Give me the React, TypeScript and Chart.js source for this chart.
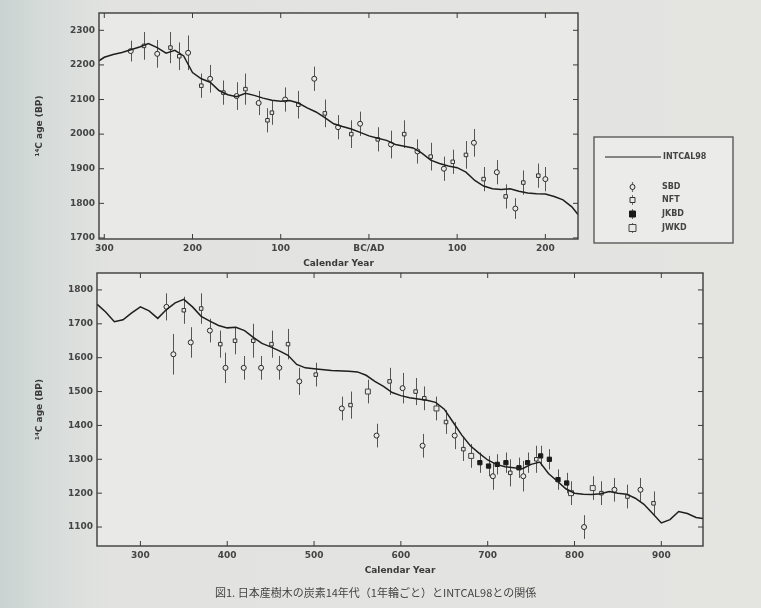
import React, { useEffect, useRef } from "react";
import { Chart, registerables } from "chart.js";
Chart.register(...registerables);

const seriesNames = ["INTCAL98", "SBD", "NFT", "JKBD", "JWKD"];

const topXTicks = [-300, -200, -100, 0, 100, 200];
const topXTickLabels = ["300", "200", "100", "BC/AD", "100", "200"];
const topYTicks = [1700, 1800, 1900, 2000, 2100, 2200, 2300];
const bottomXTicks = [300, 400, 500, 600, 700, 800, 900];
const bottomXTickLabels = ["300", "400", "500", "600", "700", "800", "900"];
const bottomYTicks = [1100, 1200, 1300, 1400, 1500, 1600, 1700, 1800];

const topCurveYears = [-306, -300, -290, -280, -270, -260, -250, -240, -230, -220, -210, -200, -190, -180, -170, -160, -150, -140, -130, -120, -110, -100, -90, -80, -70, -60, -50, -40, -30, -20, -10, 0, 10, 20, 30, 40, 50, 60, 70, 80, 90, 100, 110, 120, 130, 140, 150, 160, 170, 180, 190, 200, 210, 220, 230, 237];
const topCurveAges = [2212, 2222, 2230, 2236, 2244, 2252, 2262, 2250, 2234, 2242, 2226, 2178, 2160, 2150, 2126, 2114, 2108, 2118, 2112, 2104, 2098, 2095, 2097, 2090, 2076, 2064, 2048, 2030, 2022, 2015, 2005, 1995, 1988, 1982, 1970, 1965, 1960, 1945, 1925, 1915, 1908, 1903, 1890, 1866, 1850, 1842, 1840, 1842, 1835, 1830, 1828, 1827, 1820, 1810, 1790, 1768];

const bottomCurveYears = [250, 260, 270, 280, 290, 300, 310, 320, 330, 340, 350, 360, 370, 380, 390, 400, 410, 420, 430, 440, 450, 460, 470, 480, 490, 500, 520, 540, 550, 560, 570, 580, 590, 600, 610, 620, 630, 640, 650, 660, 670, 680, 690, 700, 710, 720, 730, 740, 750, 760, 770, 780, 790, 800, 810, 820, 830, 840, 850, 860, 870, 880, 890, 900, 910, 920, 930, 940, 948];
const bottomCurveAges = [1758, 1735, 1706, 1712, 1732, 1750, 1738, 1716, 1742, 1762, 1772, 1750, 1722, 1708, 1695, 1688, 1690, 1680, 1660, 1642, 1632, 1620, 1607, 1580, 1570, 1567, 1562, 1560, 1558, 1548, 1530, 1515, 1497, 1488, 1482, 1478, 1474, 1468, 1448, 1410, 1372, 1340, 1318, 1298, 1285, 1278, 1275, 1272, 1285, 1292, 1258, 1236, 1213, 1200, 1197, 1196, 1198, 1205, 1200, 1197, 1185, 1167, 1140, 1112, 1122, 1146, 1140, 1128, 1125];

// [calendar year, 14C age, error]
const topSBD = [[-270, 2240, 30], [-240, 2232, 40], [-205, 2235, 50], [-180, 2160, 40], [-150, 2110, 40], [-125, 2090, 35], [-95, 2100, 35], [-62, 2160, 35], [-35, 2020, 35], [-10, 2030, 35], [25, 1970, 40], [55, 1950, 35], [85, 1900, 35], [119, 1975, 40], [145, 1890, 35], [166, 1785, 30], [200, 1870, 35]];
const topNFT = [[-255, 2255, 40], [-225, 2250, 45], [-215, 2225, 40], [-190, 2140, 35], [-165, 2120, 35], [-140, 2130, 45], [-115, 2040, 35], [-110, 2062, 35], [-80, 2085, 40], [-50, 2060, 40], [-20, 2000, 40], [10, 1985, 35], [40, 2000, 40], [70, 1935, 40], [95, 1920, 35], [110, 1940, 40], [130, 1870, 35], [155, 1820, 35], [175, 1860, 35], [192, 1880, 35]];
const bottomSBD = [[330, 1750, 40], [338, 1610, 60], [358, 1645, 45], [380, 1680, 35], [398, 1570, 45], [419, 1570, 35], [439, 1570, 35], [460, 1570, 35], [483, 1530, 40], [532, 1450, 35], [572, 1370, 35], [602, 1510, 45], [625, 1340, 35], [662, 1370, 40], [706, 1250, 40], [741, 1250, 45], [811, 1100, 35], [846, 1210, 35], [876, 1210, 35]];
const bottomNFT = [[350, 1740, 40], [370, 1745, 45], [392, 1640, 40], [409, 1650, 40], [430, 1650, 50], [451, 1640, 40], [470, 1640, 45], [502, 1550, 35], [542, 1460, 40], [587, 1530, 40], [617, 1500, 40], [627, 1480, 35], [652, 1410, 35], [672, 1330, 35], [726, 1260, 40], [756, 1300, 40], [831, 1200, 35], [861, 1190, 35], [891, 1170, 35]];
const bottomJKBD = [[691, 1290, 30], [701, 1280, 30], [711, 1285, 30], [721, 1290, 30], [736, 1275, 30], [746, 1290, 30], [761, 1310, 30], [771, 1300, 30], [781, 1240, 30], [791, 1230, 30]];
const bottomJWKD = [[562, 1500, 35], [641, 1450, 35], [681, 1310, 35], [796, 1200, 35], [821, 1215, 35]];

const TICK_FONT = { family: "DejaVu Sans", size: 9, weight: "bold" as const };
const TICK_COLOR = "#444";
const PLOT_BG = "#e9e9e7";

const styles = [
  { pointStyle: "circle", radius: 2.5, bg: PLOT_BG, border: "#2a2a2a" },
  { pointStyle: "rect", radius: 2.5, bg: PLOT_BG, border: "#333" },
  { pointStyle: "rect", radius: 3, bg: "#1a1a1a", border: "#1a1a1a" },
  { pointStyle: "rect", radius: 3.5, bg: PLOT_BG, border: "#444" },
];

function pointSet(label: string, arr: number[][], st: any) {
  return {
    label,
    data: arr.map((p) => ({ x: p[0], y: p[1] })),
    errors: arr.map((p) => p[2]),
    showLine: false,
    pointStyle: st.pointStyle,
    pointRadius: st.radius,
    pointBackgroundColor: st.bg,
    pointBorderColor: st.border,
    pointBorderWidth: 1,
  };
}

const panelPlugin = {
  id: "panel",
  beforeDraw(chart: any) {
    const { ctx, chartArea: a } = chart;
    ctx.save();
    ctx.fillStyle = PLOT_BG;
    ctx.fillRect(a.left, a.top, a.right - a.left, a.bottom - a.top);
    ctx.restore();
  },
  beforeDatasetsDraw(chart: any) {
    const { ctx, chartArea: a } = chart;
    const xs = chart.scales.x;
    const ys = chart.scales.y;
    ctx.save();
    ctx.beginPath();
    ctx.rect(a.left, a.top, a.right - a.left, a.bottom - a.top);
    ctx.clip();
    ctx.strokeStyle = "#555";
    ctx.lineWidth = 1;
    chart.data.datasets.forEach((ds: any) => {
      if (!ds.errors) return;
      ds.data.forEach((p: any, j: number) => {
        const e = ds.errors[j];
        const x = Math.round(xs.getPixelForValue(p.x)) + 0.5;
        ctx.beginPath();
        ctx.moveTo(x, ys.getPixelForValue(p.y - e));
        ctx.lineTo(x, ys.getPixelForValue(p.y + e));
        ctx.stroke();
      });
    });
    ctx.restore();
  },
  afterDraw(chart: any) {
    const { ctx, chartArea: a } = chart;
    const xs = chart.scales.x;
    const ys = chart.scales.y;
    ctx.save();
    ctx.strokeStyle = "#3c3c3c";
    ctx.lineWidth = 1.4;
    ctx.strokeRect(a.left, a.top, a.right - a.left, a.bottom - a.top);
    ctx.lineWidth = 1;
    ctx.beginPath();
    xs.ticks.forEach((t: any) => {
      const x = xs.getPixelForValue(t.value);
      ctx.moveTo(x, a.bottom);
      ctx.lineTo(x, a.bottom - 5);
      ctx.moveTo(x, a.top);
      ctx.lineTo(x, a.top + 5);
    });
    ys.ticks.forEach((t: any) => {
      const y = ys.getPixelForValue(t.value);
      ctx.moveTo(a.left, y);
      ctx.lineTo(a.left + 5, y);
      ctx.moveTo(a.right, y);
      ctx.lineTo(a.right - 5, y);
    });
    ctx.stroke();
    ctx.restore();
  },
};

function drawMarker(ctx: CanvasRenderingContext2D, ds: any, x: number, y: number) {
  const r = ds.pointRadius;
  ctx.fillStyle = ds.pointBackgroundColor;
  ctx.strokeStyle = ds.pointBorderColor;
  ctx.lineWidth = 1;
  ctx.beginPath();
  if (ds.pointStyle === "circle") ctx.arc(x, y, r, 0, Math.PI * 2);
  else ctx.rect(x - r, y - r, r * 2, r * 2);
  ctx.fill();
  ctx.stroke();
}

const legendBoxPlugin = {
  id: "legendBox",
  afterDraw(chart: any, _args: any, opts: any) {
    if (!opts || !opts.show) return;
    const ctx = chart.ctx;
    const a = chart.chartArea;
    const ds = chart.data.datasets;
    const bx = a.right + 16;
    const by = 137;
    const bw = 139;
    const bh = 106;
    ctx.save();
    ctx.fillStyle = "#ebebe9";
    ctx.fillRect(bx, by, bw, bh);
    ctx.strokeStyle = "#5a5a5a";
    ctx.lineWidth = 1.4;
    ctx.strokeRect(bx, by, bw, bh);
    ctx.font = "bold 8px 'DejaVu Sans'";
    ctx.textBaseline = "middle";
    ctx.fillStyle = "#444";
    ctx.strokeStyle = ds[0].borderColor;
    ctx.lineWidth = 1.2;
    ctx.beginPath();
    ctx.moveTo(bx + 11, by + 20);
    ctx.lineTo(bx + 67, by + 20);
    ctx.stroke();
    ctx.fillText(ds[0].label, bx + 69, by + 20);
    const rows = [50, 63, 77, 91];
    for (let i = 1; i < ds.length; i++) {
      const y = by + rows[i - 1];
      ctx.strokeStyle = "#6a6a6a";
      ctx.beginPath();
      ctx.moveTo(bx + 38.5, y - 5);
      ctx.lineTo(bx + 38.5, y + 5);
      ctx.stroke();
      drawMarker(ctx, ds[i], bx + 38.5, y);
      ctx.fillStyle = "#444";
      ctx.fillText(ds[i].label, bx + 68, y);
    }
    ctx.restore();
  },
};

function makeConfig(p: any) {
  const titleFont = { family: "DejaVu Sans", size: 9, weight: "bold" as const };
  return {
    type: "scatter" as const,
    data: {
      datasets: [
        {
          label: seriesNames[0],
          data: p.curveX.map((x: number, i: number) => ({ x, y: p.curveY[i] })),
          showLine: true,
          borderColor: "#1f1f1f",
          borderWidth: 1.5,
          pointRadius: 0,
          tension: 0,
        },
        ...p.points.map((arr: number[][], i: number) => pointSet(seriesNames[i + 1], arr, styles[i])),
      ],
    },
    options: {
      animation: false,
      responsive: false,
      devicePixelRatio: 1,
      layout: { padding: { top: p.padTop, right: p.padRight, left: 0, bottom: 0 } },
      plugins: {
        legend: { display: false },
        tooltip: { enabled: false },
        legendBox: { show: p.legend },
      },
      scales: {
        x: {
          type: "linear",
          min: p.xMin,
          max: p.xMax,
          afterBuildTicks: (s: any) => {
            s.ticks = p.xTicks.map((v: number) => ({ value: v }));
          },
          afterFit: (s: any) => {
            s.height = p.xHeight;
          },
          ticks: {
            autoSkip: false,
            maxRotation: 0,
            padding: 4,
            font: TICK_FONT,
            color: TICK_COLOR,
            callback: (v: number) => p.xLabels[p.xTicks.indexOf(v)],
          },
          grid: { display: false, drawTicks: false },
          border: { display: false },
          title: { display: true, text: "Calendar Year", font: titleFont, color: "#3a3a3a", padding: { top: 0, bottom: 6 } },
        },
        y: {
          type: "linear",
          min: p.yMin,
          max: p.yMax,
          afterBuildTicks: (s: any) => {
            s.ticks = p.yTicks.map((v: number) => ({ value: v }));
          },
          afterFit: (s: any) => {
            s.width = p.yWidth;
          },
          ticks: { padding: 4, font: TICK_FONT, color: TICK_COLOR, callback: (v: number) => String(v) },
          grid: { display: false, drawTicks: false },
          border: { display: false },
          title: { display: true, text: "¹⁴C age (BP)", font: titleFont, color: "#3a3a3a", padding: { top: 34, bottom: 0 } },
        },
      },
    },
    plugins: [panelPlugin, legendBoxPlugin],
  };
}

function ChartCanvas({ cfg, width, height, top }: any) {
  const ref = useRef<HTMLCanvasElement | null>(null);
  useEffect(() => {
    if (!ref.current) return;
    const chart = new Chart(ref.current, cfg as any);
    return () => chart.destroy();
  }, []);
  return (
    <canvas
      ref={ref}
      width={width}
      height={height}
      style={{ position: "absolute", left: 0, top, width, height, display: "block" }}
    />
  );
}

export default function App() {
  const topCfg = makeConfig({
    curveX: topCurveYears,
    curveY: topCurveAges,
    points: [topSBD, topNFT, [], []],
    xMin: -306,
    xMax: 237,
    yMin: 1697,
    yMax: 2350,
    xTicks: topXTicks,
    xLabels: topXTickLabels,
    yTicks: topYTicks,
    padTop: 13,
    padRight: 183,
    xHeight: 36,
    yWidth: 99,
    legend: true,
  });
  const bottomCfg = makeConfig({
    curveX: bottomCurveYears,
    curveY: bottomCurveAges,
    points: [bottomSBD, bottomNFT, bottomJKBD, bottomJWKD],
    xMin: 250,
    xMax: 948,
    yMin: 1044,
    yMax: 1850,
    xTicks: bottomXTicks,
    xLabels: bottomXTickLabels,
    yTicks: bottomYTicks,
    padTop: 11,
    padRight: 58,
    xHeight: 36,
    yWidth: 97,
    legend: false,
  });
  return (
    <div
      style={{
        position: "fixed",
        left: 0,
        top: 0,
        width: 761,
        height: 608,
        overflow: "hidden",
        background: "linear-gradient(to right, #c9d3d1 0px, #d6dcda 45px, #e2e3e0 110px, #e4e4e1 100%)",
      }}
    >
      <ChartCanvas cfg={topCfg} width={761} height={275} top={0} />
      <ChartCanvas cfg={bottomCfg} width={761} height={320} top={262} />
      <div
        style={{
          position: "absolute",
          left: 215,
          top: 584,
          fontFamily: "'Noto Sans CJK JP', sans-serif",
          fontSize: 11,
          color: "#444",
          whiteSpace: "nowrap",
        }}
      >
        図1. 日本産樹木の炭素14年代（1年輪ごと）とINTCAL98との関係
      </div>
    </div>
  );
}
